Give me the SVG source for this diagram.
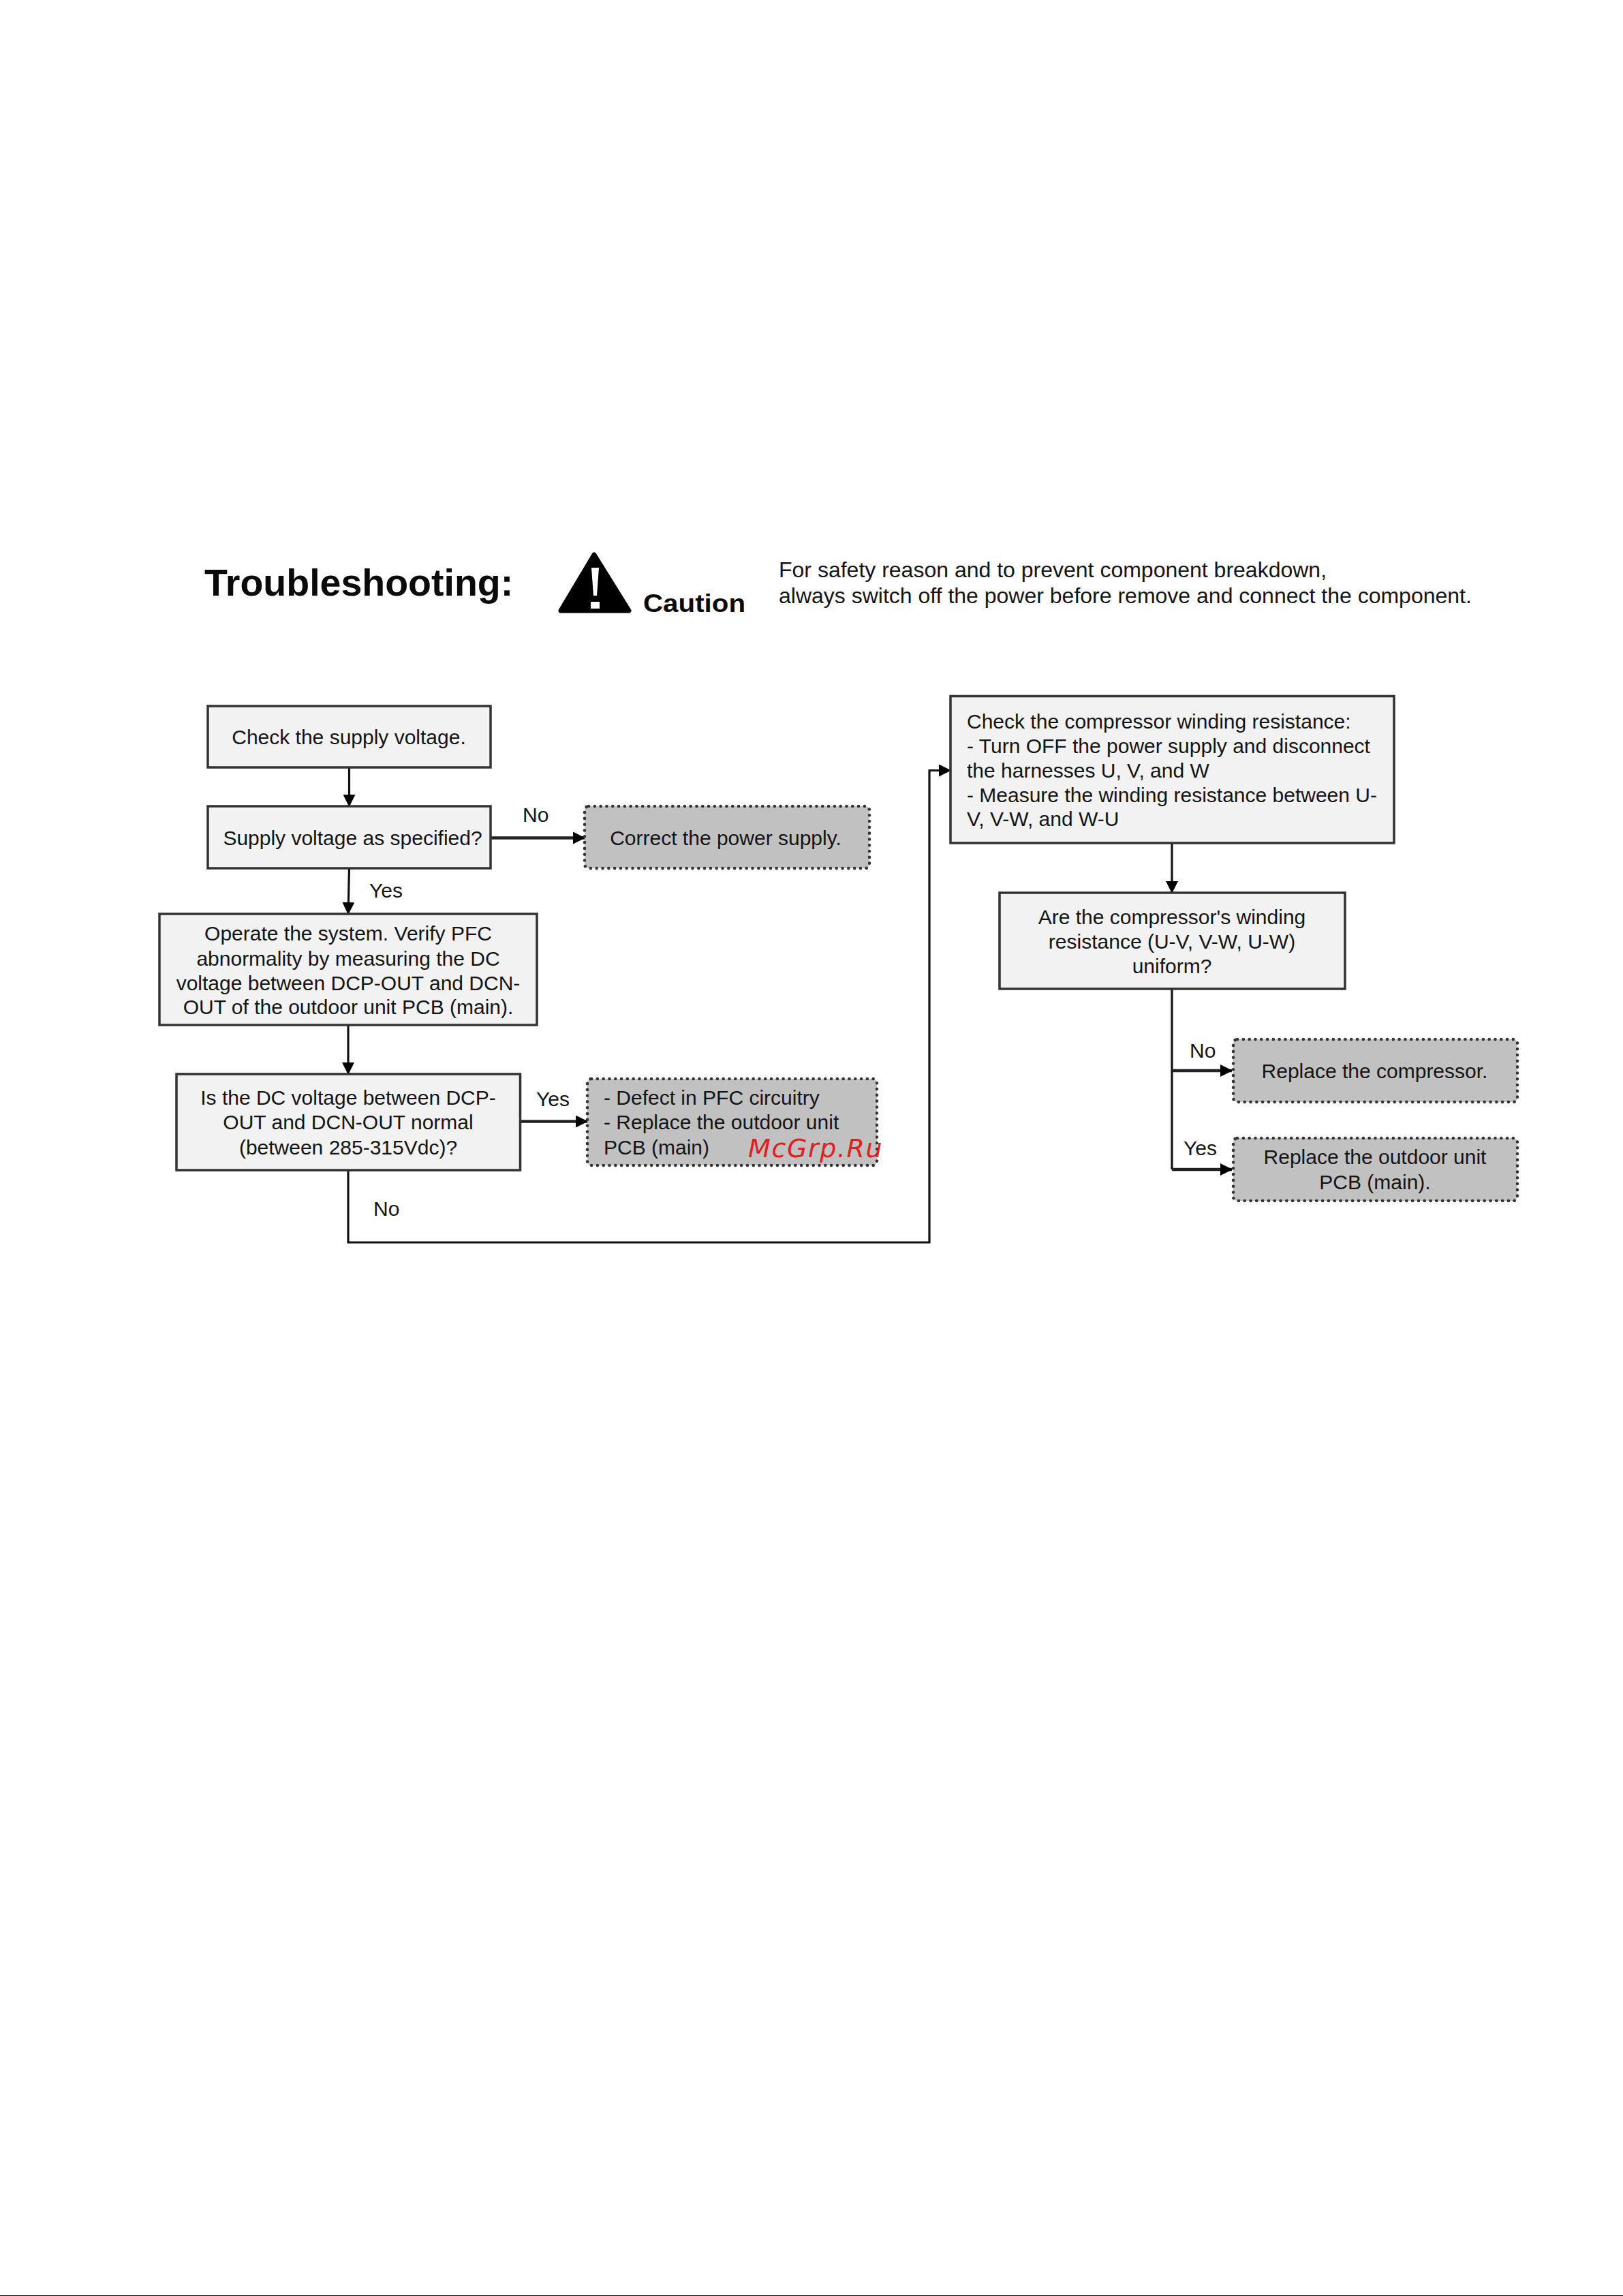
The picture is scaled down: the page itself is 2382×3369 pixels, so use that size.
<svg xmlns="http://www.w3.org/2000/svg" width="2382" height="3369" viewBox="0 0 2382 3369">
<style>
text{font-family:"Liberation Sans",Arial,sans-serif;font-size:30px;fill:#141414}
.m{text-anchor:middle}
.cap{font-size:32px}
.box{fill:#f2f2f2;stroke:#333;stroke-width:3.5}
.end{fill:#c1c1c1;stroke:#333;stroke-width:4.5;stroke-linecap:round;stroke-dasharray:.1 8.7}
.c{fill:none;stroke:#111;stroke-width:3.2}
.h{fill:none;stroke:#222;stroke-width:4.4}
.t{font-weight:bold;font-size:55.5px;fill:#0a0a0a}
</style>
<defs>
<marker id="a" markerUnits="userSpaceOnUse" markerWidth="18" markerHeight="18" refX="17" refY="9" orient="auto"><path d="M0 0L18 9L0 18Z" fill="#000"/></marker>
</defs>
<rect width="2382" height="3369" fill="#fff"/>
<rect y="3368" width="2382" height="1" fill="#000"/>
<g id="header">
<text class="t" x="300" y="874">Troubleshooting:</text>
<path d="M872 814L923 896H823Z" fill="#000" stroke="#000" stroke-width="7" stroke-linejoin="round"/>
<path d="M868 833H879L876 874H871Z" fill="#fff"/>
<rect x="867" y="883" width="13" height="10" fill="#fff"/>
<text x="944" y="898" textLength="150" lengthAdjust="spacingAndGlyphs" style="font-weight:bold;font-size:36px;fill:#0a0a0a">Caution</text>
<text class="cap" x="1143" y="847">For safety reason and to prevent component breakdown,</text>
<text class="cap" x="1143" y="885">always switch off the power before remove and connect the component.</text>
</g>
<g id="connectors">
<path class="c" d="M512.5 1126V1183" marker-end="url(#a)"/>
<path class="h" d="M720 1229.5H858" marker-end="url(#a)"/>
<path class="c" d="M512.5 1274L511 1341" marker-end="url(#a)"/>
<path class="c" d="M511 1504V1576" marker-end="url(#a)"/>
<path class="h" d="M763 1645.5H862" marker-end="url(#a)"/>
<path class="c" d="M511 1717V1823H1364V1130.5H1395" marker-end="url(#a)"/>
<path class="c" d="M1720 1237V1310" marker-end="url(#a)"/>
<path class="c" d="M1720 1451V1716"/>
<path class="h" d="M1720 1571H1808" marker-end="url(#a)"/>
<path class="h" d="M1720 1716H1808" marker-end="url(#a)"/>
</g>
<g id="n1"><rect class="box" x="305" y="1036" width="415" height="90"/><text class="m" x="512" y="1092">Check the supply voltage.</text></g>
<g id="n2"><rect class="box" x="305" y="1183" width="415" height="91"/><text class="m" x="517.5" y="1240">Supply voltage as specified?</text></g>
<g id="n2no"><rect class="end" x="858" y="1183" width="418" height="91" rx="6"/><text class="m" x="1065" y="1240">Correct the power supply.</text></g>
<g id="n3"><rect class="box" x="234" y="1341" width="554" height="163"/>
<text class="m" x="511" y="1380">Operate the system. Verify PFC</text>
<text class="m" x="511" y="1417">abnormality by measuring the DC</text>
<text class="m" x="511" y="1453">voltage between DCP-OUT and DCN-</text>
<text class="m" x="511" y="1488">OUT of the outdoor unit PCB (main).</text></g>
<g id="n4"><rect class="box" x="259" y="1576" width="504.500" height="141"/>
<text class="m" x="511" y="1621">Is the DC voltage between DCP-</text>
<text class="m" x="511" y="1657">OUT and DCN-OUT normal</text>
<text class="m" x="511" y="1694">(between 285-315Vdc)?</text></g>
<g id="n4yes"><rect class="end" x="862" y="1583" width="425" height="127" rx="6"/>
<text x="886" y="1621">- Defect in PFC circuitry</text>
<text x="886" y="1657">- Replace the outdoor unit</text>
<text x="886" y="1694">PCB (main)</text></g>
<g id="n5"><rect class="box" x="1395" y="1021.500" width="651" height="215.500"/>
<text x="1419" y="1069">Check the compressor winding resistance:</text>
<text x="1419" y="1105">- Turn OFF the power supply and disconnect</text>
<text x="1419" y="1141">the harnesses U, V, and W</text>
<text x="1419" y="1177">- Measure the winding resistance between U-</text>
<text x="1419" y="1212">V, V-W, and W-U</text></g>
<g id="n6"><rect class="box" x="1467" y="1310" width="507" height="141"/>
<text class="m" x="1720" y="1356">Are the compressor's winding</text>
<text class="m" x="1720" y="1392">resistance (U-V, V-W, U-W)</text>
<text class="m" x="1720" y="1428">uniform?</text></g>
<g id="n6no"><rect class="end" x="1810" y="1525" width="417" height="92" rx="6"/><text class="m" x="2017.500" y="1582">Replace the compressor.</text></g>
<g id="n6yes"><rect class="end" x="1810" y="1670" width="417" height="92" rx="6"/>
<text class="m" x="2018" y="1708">Replace the outdoor unit</text>
<text class="m" x="2018" y="1745">PCB (main).</text></g>
<g id="labels">
<text x="767" y="1206">No</text>
<text x="542" y="1317">Yes</text>
<text x="787" y="1623">Yes</text>
<text x="548" y="1784">No</text>
<text x="1746" y="1552">No</text>
<text x="1737" y="1695">Yes</text>
</g>
<text id="watermark" x="1098" y="1698" style="font-family:'DejaVu Sans',sans-serif;font-style:oblique;font-size:38px;letter-spacing:1.6px;fill:#df2020">McGrp.Ru</text>
</svg>
